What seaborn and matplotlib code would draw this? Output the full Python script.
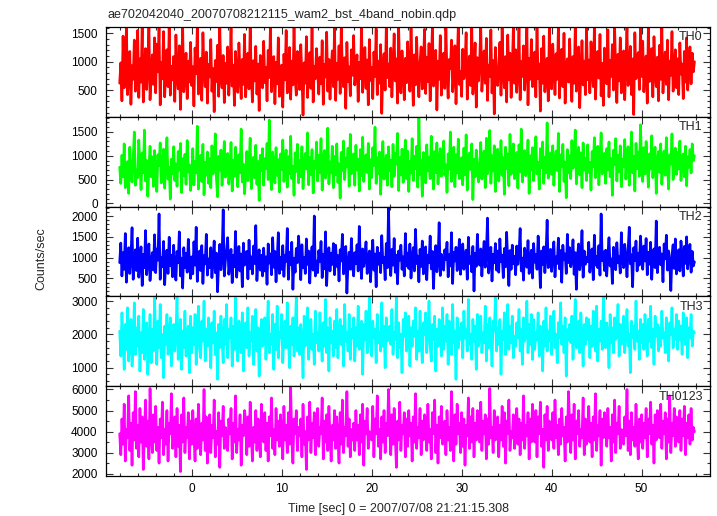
"""
Recreate the WAM 4-band light curve plot (qdp style, 5 stacked panels).
Count rates below are estimates read off the reference, one every 0.125 s.
"""
import numpy as np
import pandas as pd
import matplotlib
matplotlib.use("Agg")
import matplotlib.pyplot as plt
from matplotlib.ticker import MultipleLocator
import seaborn as sns

# ---------------------------------------------------------------
# 1. Data (counts/sec, t = -8 .. 56 s, 16 samples = 2 s per row)
# ---------------------------------------------------------------
time_start = -8.0
time_step = 0.125

th0 = [
    620, 980, 310, 1450, 540, 870, 1620, 420, 760, 1180, 250, 930, 690, 1380, 480, 820,
    1550, 370, 1050, 640, 1620, 290, 880, 1230, 510, 970, 1640, 330, 780, 1120, 600, 1420,
    450, 1310, 820, 1620, 240, 990, 700, 1530, 380, 860, 1210, 560, 1620, 410, 920, 680,
    1090, 300, 1470, 750, 520, 1280, 160, 860, 1620, 470, 730, 1150, 350, 1010, 640, 1340,
    580, 910, 220, 1240, 790, 1620, 430, 690, 1060, 320, 1510, 840, 560, 1170, 270, 950,
    730, 1390, 480, 880, 120, 1020, 650, 1290, 390, 1620, 760, 540, 1110, 280, 970, 620,
    1260, 410, 830, 1590, 570, 940, 230, 1180, 700, 460, 1330, 810, 350, 1040, 600, 1480,
    380, 890, 1150, 520, 1620, 740, 290, 1020, 660, 1270, 430, 960, 140, 1110, 780, 540,
    1360, 630, 900, 310, 1200, 720, 1620, 470, 850, 1090, 260, 990, 610, 1420, 390, 770,
    940, 200, 1130, 680, 1550, 450, 820, 1250, 340, 1010, 590, 1620, 710, 410, 1180, 860,
    510, 1300, 760, 60, 980, 620, 1440, 370, 870, 1160, 530, 1620, 290, 920, 700, 1230,
    820, 430, 1080, 610, 1370, 250, 950, 730, 1520, 480, 1040, 340, 880, 1190, 560, 1620,
    320, 970, 690, 1280, 440, 1620, 810, 560, 1070, 180, 1340, 650, 910, 400, 1210, 760,
    1460, 590, 830, 1120, 300, 990, 700, 1620, 460, 880, 1250, 530, 1030, 240, 1390, 670,
    900, 350, 1170, 740, 1580, 420, 1010, 620, 1300, 90, 860, 1140, 500, 1620, 720, 960,
    560, 1240, 380, 910, 1490, 660, 1050, 270, 1620, 780, 450, 1190, 840, 330, 1060, 630,
    1350, 710, 480, 1620, 870, 230, 1120, 590, 1430, 760, 380, 990, 1260, 520, 900, 1570,
    440, 1080, 650, 1320, 310, 940, 1620, 570, 820, 1200, 150, 1010, 690, 1460, 410, 860,
    1150, 530, 1620, 770, 360, 1040, 880, 1380, 470, 730, 1280, 260, 960, 1620, 600, 830,
    390, 1220, 700, 950, 1510, 340, 860, 1100, 580, 1620, 430, 800, 1330, 200, 1070, 660,
    1000, 1620, 480, 870, 1190, 620, 1410, 320, 940, 740, 1560, 450, 1020, 80, 1250, 710,
    580, 930, 1340, 410, 1620, 790, 540, 1090, 290, 1470, 680, 1150, 370, 890, 1620, 620,
    1210, 460, 850, 1620, 330, 1000, 740, 1280, 500, 930, 1600, 240, 1060, 690, 1390, 560,
    810, 1170, 380, 1620, 700, 960, 130, 1230, 620, 1450, 470, 880, 1060, 310, 1620, 750,
    520, 1310, 890, 420, 1140, 690, 1620, 360, 980, 1220, 560, 1500, 270, 870, 1050, 640,
    1400, 750, 300, 1090, 620, 1620, 480, 940, 1260, 190, 830, 1370, 590, 1010, 420, 1620,
    680, 1030, 450, 1350, 820, 560, 1620, 340, 910, 1180, 710, 1480, 400, 970, 230, 1240,
    870, 610, 1560, 380, 1020, 740, 1300, 500, 1620, 820, 280, 1130, 660, 1420, 450, 900,
    1190, 330, 960, 1620, 580, 840, 1270, 420, 1050, 70, 1510, 700, 930, 1160, 510, 1620,
    740, 1360, 470, 880, 1100, 270, 1620, 650, 990, 1230, 380, 1440, 790, 560, 1080, 310,
    1290, 690, 1620, 450, 920, 1170, 600, 1380, 330, 1010, 760, 1530, 480, 870, 1210, 540,
    1050, 420, 1330, 780, 960, 350, 1180, 640, 1420, 500, 900, 1260, 610, 1150, 820, 1000,
]

th1 = [
    760, 420, 1010, 560, 1250, 330, 690, 880, 210, 1180, 620, 450, 940, 1500, 380, 700,
    540, 1330, 810, 290, 1060, 640, 1540, 470, 900, 150, 750, 1200, 560, 980, 360, 1110,
    680, 250, 1020, 790, 1270, 430, 600, 1140, 320, 870, 1380, 510, 760, 90, 930, 620,
    1190, 480, 830, 360, 1090, 700, 1260, 230, 940, 580, 1030, 400, 1320, 660, 810, 270,
    570, 1150, 390, 880, 640, 1620, 300, 750, 1010, 460, 1240, 180, 860, 590, 1080, 420,
    940, 330, 1210, 620, 780, 1460, 510, 140, 990, 700, 1120, 380, 860, 1300, 550, 730,
    1050, 410, 680, 1280, 260, 900, 570, 1180, 740, 350, 1020, 640, 1560, 450, 820, 200,
    620, 1090, 480, 850, 1370, 310, 760, 970, 540, 1220, 400, 880, 60, 1010, 690, 1150,
    380, 940, 730, 1260, 500, 1750, 640, 290, 1080, 810, 430, 1170, 590, 920, 240, 1040,
    710, 1330, 460, 860, 1120, 340, 980, 620, 1410, 520, 780, 170, 1060, 670, 1240, 430,
    900, 560, 1190, 310, 820, 1050, 720, 1480, 390, 960, 610, 1130, 220, 880, 740, 1290,
    470, 1010, 650, 1360, 280, 920, 1110, 530, 760, 1580, 410, 870, 640, 1200, 330, 990,
    600, 1250, 440, 830, 110, 1070, 690, 1310, 500, 940, 780, 1160, 360, 1450, 620, 850,
    1040, 380, 1220, 710, 930, 260, 1130, 580, 1390, 460, 810, 1020, 650, 1260, 300, 920,
    540, 1170, 800, 1600, 420, 960, 630, 1080, 190, 870, 1300, 510, 740, 1010, 380, 1190,
    690, 910, 350, 1240, 570, 1050, 820, 1470, 270, 960, 600, 1140, 440, 850, 1330, 520,
    1100, 250, 880, 640, 1360, 480, 990, 730, 1200, 340, 1800, 610, 900, 150, 1070, 760,
    430, 1230, 680, 970, 520, 1410, 800, 300, 1090, 650, 1270, 410, 860, 1150, 570, 940,
    1310, 590, 810, 230, 1040, 720, 1500, 460, 900, 1180, 350, 1020, 640, 1350, 520, 780,
    960, 390, 1160, 600, 1440, 280, 870, 1060, 710, 1250, 80, 930, 560, 1120, 820, 450,
    700, 1280, 510, 940, 1100, 330, 1370, 620, 820, 1530, 420, 1000, 680, 1210, 250, 890,
    1140, 470, 780, 1320, 590, 960, 190, 1180, 730, 1040, 370, 1450, 610, 880, 1250, 520,
    830, 1070, 320, 1230, 660, 1560, 450, 920, 1110, 580, 790, 1330, 210, 1000, 700, 1170,
    480, 990, 1400, 620, 860, 300, 1150, 750, 1290, 420, 970, 640, 1690, 530, 820, 1060,
    610, 1210, 380, 900, 1100, 690, 1470, 250, 1020, 780, 1240, 460, 870, 120, 1130, 640,
    1000, 520, 1320, 740, 920, 1540, 410, 820, 1180, 600, 1060, 330, 1270, 710, 950, 480,
    1230, 650, 860, 280, 1090, 770, 1380, 540, 990, 1200, 390, 880, 1480, 620, 760, 1050,
    420, 1150, 700, 1290, 560, 940, 170, 1120, 820, 1360, 470, 1010, 660, 1210, 350, 930,
    780, 1340, 510, 1030, 1190, 380, 870, 1500, 640, 990, 260, 1260, 730, 1080, 570, 1650,
    890, 460, 1170, 620, 1300, 830, 340, 1040, 720, 1420, 540, 960, 1180, 210, 870, 1090,
    650, 1250, 400, 920, 1100, 590, 1380, 780, 300, 1020, 830, 1460, 500, 940, 1160, 610,
    1070, 720, 1310, 480, 890, 1040, 560, 1200, 370, 980, 760, 1130, 640, 1250, 900, 1000,
]

th2 = [
    880, 1350, 560, 1120, 720, 1580, 410, 960, 1240, 620, 1030, 1720, 480, 840, 1190, 690,
    1470, 530, 910, 1260, 330, 1080, 760, 1650, 590, 980, 1330, 450, 860, 1120, 700, 1550,
    640, 1210, 940, 2050, 480, 1010, 780, 1390, 350, 920, 1180, 620, 1490, 810, 1060, 540,
    1300, 720, 460, 1150, 880, 1620, 560, 990, 270, 1240, 760, 1100, 650, 1440, 930, 500,
    1020, 610, 1380, 820, 1730, 430, 940, 1160, 690, 1290, 380, 1050, 850, 1560, 580, 970,
    760, 1240, 520, 980, 1400, 640, 1110, 180, 890, 1320, 710, 1010, 2150, 560, 920, 1180,
    1480, 600, 860, 1200, 400, 1060, 780, 1630, 530, 940, 1270, 680, 1090, 300, 1350, 820,
    930, 1150, 490, 1420, 740, 1020, 610, 1280, 860, 1770, 450, 960, 1190, 700, 1060, 560,
    1230, 680, 1020, 360, 1330, 870, 1090, 590, 1480, 770, 1150, 420, 940, 1600, 620, 1010,
    720, 1290, 550, 1060, 910, 1700, 480, 1130, 830, 1370, 240, 990, 650, 1220, 880, 1520,
    1080, 470, 1310, 760, 1000, 620, 1450, 840, 1160, 390, 1030, 1260, 700, 2000, 560, 920,
    640, 1170, 900, 1390, 520, 1080, 730, 1620, 330, 970, 1240, 680, 1110, 840, 1340, 590,
    1300, 790, 1050, 440, 1190, 920, 1560, 610, 1000, 1270, 150, 870, 1130, 720, 1460, 830,
    560, 1120, 860, 1310, 680, 1750, 950, 500, 1210, 790, 1040, 1380, 620, 960, 1160, 420,
    1020, 1420, 700, 1090, 300, 1250, 840, 1110, 640, 1530, 880, 1010, 470, 1340, 760, 2200,
    900, 570, 1200, 820, 1460, 650, 1060, 370, 1160, 940, 1300, 720, 1020, 560, 1580, 800,
    1110, 740, 1330, 510, 990, 1240, 680, 1680, 860, 1040, 420, 1200, 790, 1400, 610, 950,
    1260, 470, 1060, 880, 1520, 730, 1150, 260, 1010, 1290, 660, 930, 1840, 570, 1080, 840,
    700, 1190, 960, 1370, 540, 1070, 800, 1600, 380, 1130, 920, 1250, 690, 1010, 1440, 600,
    1050, 1330, 720, 940, 1180, 480, 1490, 860, 1020, 660, 1270, 200, 1110, 790, 1560, 910,
    820, 1210, 560, 1040, 1390, 770, 1130, 1950, 630, 990, 1250, 440, 1080, 880, 1340, 700,
    1160, 650, 1450, 900, 1060, 520, 1220, 780, 1610, 940, 330, 1170, 720, 1300, 860, 1030,
    590, 1280, 840, 1120, 1700, 680, 990, 460, 1230, 1050, 770, 1410, 620, 950, 1180, 510,
    1340, 890, 1070, 720, 1520, 1000, 280, 1160, 830, 1260, 640, 1080, 1900, 760, 930, 1200,
    670, 1110, 1380, 540, 1020, 860, 1470, 730, 1170, 410, 1300, 950, 1090, 620, 1560, 880,
    1240, 780, 960, 1430, 600, 1120, 240, 1050, 1330, 710, 990, 1650, 530, 1160, 840, 1010,
    900, 1370, 650, 1100, 1210, 470, 1540, 820, 1030, 760, 1290, 580, 2050, 930, 1140, 690,
    1180, 560, 1060, 1480, 800, 970, 380, 1250, 1090, 710, 1360, 880, 1020, 630, 1600, 940,
    760, 1320, 1000, 540, 1190, 1730, 850, 1070, 300, 1240, 930, 1400, 680, 1110, 820, 1520,
    1050, 720, 1280, 920, 1460, 590, 1130, 840, 1370, 480, 1020, 1210, 760, 1880, 640, 990,
    1250, 830, 1090, 420, 1330, 970, 1540, 700, 1160, 880, 210, 1070, 1310, 740, 1450, 610,
    940, 1190, 680, 1400, 1020, 560, 1270, 860, 1500, 730, 1100, 1320, 650, 1150, 800, 900,
]

th3 = [
    2100, 1350, 2650, 1800, 950, 2300, 1550, 2800, 1200, 1950, 2450, 1050, 1700, 2950, 1400, 2200,
    1650, 2550, 900, 2050, 1450, 2750, 1250, 1900, 2350, 800, 1750, 2600, 1150, 2150, 1500, 3100,
    1850, 1100, 2400, 1600, 2900, 1300, 2000, 700, 2250, 1700, 2600, 1400, 1950, 2500, 1050, 1800,
    2300, 1500, 2050, 3150, 1250, 1750, 2450, 950, 2100, 1600, 2700, 1350, 1900, 2250, 850, 2550,
    1450, 2200, 1700, 2600, 1100, 2000, 2850, 1550, 1300, 2400, 1800, 3000, 1200, 2150, 1650, 2500,
    1950, 1000, 2350, 1750, 2700, 1400, 2050, 650, 2300, 1600, 2550, 1850, 1150, 2450, 1700, 2900,
    1300, 2150, 1900, 2500, 1050, 2250, 1550, 3100, 1750, 1200, 2400, 2000, 1450, 2650, 900, 2100,
    2350, 1600, 2800, 1350, 2050, 1800, 2550, 1100, 1950, 2750, 1500, 2200, 750, 1850, 2450, 1650,
    1750, 2500, 1250, 2150, 3000, 1450, 2000, 1700, 2600, 950, 2300, 1550, 2850, 1300, 2050, 1900,
    2600, 1150, 1950, 2400, 1600, 2950, 1850, 1000, 2250, 1700, 2500, 1350, 2100, 3150, 1500, 2200,
    1400, 2300, 1800, 700, 2550, 1650, 2150, 2800, 1250, 1950, 2450, 1550, 2000, 1100, 2700, 1750,
    2050, 1500, 2650, 1850, 1200, 2350, 1650, 3050, 1450, 2200, 900, 2500, 1750, 2100, 1350, 2400,
    1600, 2750, 1300, 2000, 2450, 1700, 2250, 1050, 2900, 1800, 2050, 1500, 2600, 1250, 2150, 1900,
    2500, 1200, 2200, 1650, 2850, 1550, 2000, 2400, 800, 2300, 1850, 2700, 1450, 1950, 3100, 1700,
    1350, 2400, 1900, 2150, 1150, 2600, 1750, 2050, 1500, 2950, 1650, 2250, 1000, 2500, 1800, 2100,
    2250, 1700, 2750, 1400, 2050, 1850, 3150, 1300, 2350, 1600, 2000, 850, 2450, 1950, 2650, 1500,
    1800, 2550, 1050, 2200, 1650, 2400, 1950, 2800, 1250, 2100, 1500, 2700, 1750, 1150, 2350, 2000,
    2650, 1450, 2050, 3000, 1700, 1200, 2300, 1850, 2550, 900, 2150, 1650, 2450, 1950, 1350, 2800,
    1550, 2250, 1800, 2600, 1100, 2400, 1950, 1400, 2900, 1750, 2100, 650, 2500, 1600, 2200, 1850,
    2350, 1300, 2700, 1900, 2150, 1500, 3050, 1700, 2000, 1250, 2450, 1800, 2250, 950, 2600, 1650,
    1950, 2550, 1450, 2050, 1750, 2850, 1200, 2300, 1600, 2500, 1900, 1050, 2400, 2100, 3100, 1500,
    2200, 1700, 2450, 800, 2100, 1850, 2650, 1400, 2000, 2900, 1550, 2250, 1750, 2550, 1300, 1950,
    1650, 2350, 1900, 2750, 1500, 2150, 1100, 2500, 1800, 2050, 3000, 1450, 2300, 1700, 2600, 1250,
    2450, 1550, 2050, 1850, 2650, 1350, 2250, 1950, 900, 2400, 1650, 2800, 1500, 2100, 1800, 2550,
    1400, 2200, 2700, 1600, 2000, 1150, 2350, 1900, 2950, 1700, 2250, 1450, 2500, 750, 2150, 1850,
    2300, 1750, 2550, 1250, 2100, 3050, 1600, 2000, 2400, 1450, 2650, 1900, 1050, 2300, 1700, 2500,
    1850, 2450, 1300, 2250, 1650, 2700, 2000, 1500, 2850, 1200, 2150, 1800, 2400, 1550, 3150, 1950,
    1600, 2350, 1950, 1000, 2600, 1750, 2200, 1450, 2500, 1850, 2050, 2900, 1350, 2300, 1700, 2150,
    2550, 1450, 2100, 2750, 1650, 2000, 850, 2400, 1900, 2250, 1550, 3000, 1800, 2100, 1250, 2450,
    1750, 2300, 1550, 2600, 1950, 1350, 2450, 1800, 2850, 1600, 2150, 1100, 2550, 1950, 2300, 1500,
    2200, 1650, 2700, 1900, 2050, 1450, 2500, 1750, 1200, 2350, 2000, 2800, 1600, 2150, 1850, 2600,
    1550, 2400, 1850, 2250, 1400, 2650, 2000, 1700, 2500, 1300, 2200, 1900, 2600, 1650, 2100, 2050,
]

th0123 = [
    3900, 2900, 4600, 3400, 5300, 2600, 4100, 3700, 5700, 3100, 4400, 2400, 4900, 3600, 5900, 3200,
    4300, 2800, 5100, 3500, 4700, 2200, 4000, 5500, 3300, 4500, 2700, 6050, 3800, 3000, 4800, 3500,
    5200, 3100, 4200, 2500, 4600, 3700, 5400, 2900, 4100, 3400, 5000, 2600, 4400, 3900, 5800, 3200,
    3600, 4700, 2800, 5100, 3300, 4300, 2100, 4800, 3500, 5600, 3000, 4200, 3700, 4900, 2700, 4500,
    3400, 5000, 3800, 2600, 4600, 3200, 5300, 3900, 2900, 4400, 3600, 6000, 3100, 4700, 2500, 4100,
    4800, 3000, 4300, 3700, 5500, 2800, 4000, 3400, 4900, 2300, 4500, 3800, 5200, 3200, 4200, 3600,
    3100, 4600, 3900, 5100, 2700, 4400, 3500, 5700, 3000, 4100, 3600, 4800, 2400, 4300, 3800, 5000,
    4500, 2900, 4700, 3300, 5400, 3800, 2600, 4200, 3500, 5000, 3100, 4600, 3900, 2800, 5300, 3700,
    3500, 4900, 3100, 4400, 2600, 4700, 3800, 5600, 3200, 4100, 2900, 5100, 3600, 4500, 3300, 4800,
    4000, 2700, 5200, 3600, 4300, 3000, 4900, 3400, 6100, 3700, 2500, 4600, 3900, 5000, 3100, 4200,
    3800, 4600, 2800, 5300, 3400, 4000, 2200, 4700, 3600, 5400, 3000, 4400, 3700, 4900, 2900, 4500,
    5100, 3300, 4200, 3900, 5600, 2700, 4500, 3500, 4800, 3100, 5200, 3800, 2600, 4300, 3600, 5000,
    3200, 4700, 3700, 2500, 4900, 3400, 5500, 3000, 4200, 3800, 5900, 3300, 4600, 2800, 4100, 3600,
    4400, 3100, 5000, 3600, 4300, 2900, 4800, 3500, 5300, 2400, 4500, 3900, 5100, 3200, 4000, 3700,
    3600, 5200, 2800, 4600, 3900, 5700, 3300, 4100, 2700, 4700, 3500, 5000, 3000, 4400, 3800, 6000,
    4200, 2900, 4800, 3400, 5100, 3700, 2300, 4500, 3600, 5400, 3100, 4300, 3900, 4900, 2800, 4600,
    3300, 5000, 3800, 4400, 2600, 4700, 3500, 5800, 3200, 4200, 3700, 5100, 2900, 4500, 3600, 4800,
    4600, 3100, 5300, 3500, 4100, 2700, 4900, 3900, 5500, 3000, 4300, 2500, 4700, 3700, 5200, 3400,
    3700, 4500, 2900, 5000, 3600, 4200, 3100, 5900, 3800, 2600, 4800, 3400, 5300, 3900, 4400, 3000,
    4900, 3300, 4600, 2400, 4300, 3800, 5600, 3200, 4700, 3500, 5100, 2800, 4400, 3600, 5000, 3700,
    3500, 5400, 3100, 4500, 3900, 4800, 2700, 4600, 3400, 6050, 3700, 4200, 3000, 5000, 3600, 4400,
    4700, 2800, 4300, 3600, 5200, 3300, 4900, 2500, 4500, 3900, 5500, 3100, 4000, 3700, 4800, 3200,
    3800, 5100, 3400, 4600, 2900, 4400, 3600, 5700, 3200, 4300, 3800, 4900, 2700, 4600, 3500, 5300,
    4200, 3500, 5000, 2800, 4700, 3900, 5400, 3300, 4100, 2300, 4800, 3600, 5200, 3100, 4500, 3800,
    3600, 4900, 3200, 5500, 3700, 4300, 2900, 4600, 3400, 5100, 3800, 4200, 2600, 4700, 3500, 5900,
    4400, 3000, 4800, 3600, 5300, 2700, 4500, 3900, 5000, 3300, 4100, 3700, 5600, 2900, 4600, 3400,
    3900, 5200, 3500, 4400, 2800, 4700, 3600, 5800, 3100, 4300, 3800, 5000, 2400, 4600, 3700, 4900,
    4500, 3300, 5100, 3700, 4200, 2600, 4800, 3500, 5500, 3000, 4400, 3900, 5200, 3200, 4100, 3600,
    3400, 4700, 3800, 6000, 3100, 4500, 2900, 4900, 3600, 4200, 3300, 5300, 3800, 2700, 4600, 3500,
    4800, 3200, 4400, 3700, 5100, 2800, 4600, 3900, 5400, 3400, 4300, 2500, 4800, 3600, 5000, 3800,
    3700, 5300, 3200, 4500, 3900, 4900, 2700, 4600, 3500, 5700, 3000, 4400, 3800, 5100, 3300, 4700,
    4300, 3500, 5000, 3100, 4600, 3800, 5200, 2900, 4400, 3700, 4800, 3400, 5100, 3600, 4200, 4000,
]

panels = ["TH0", "TH1", "TH2", "TH3", "TH0123"]
rates = [th0, th1, th2, th3, th0123]
colors = ["#ff0000", "#00ff00", "#0000ff", "#00ffff", "#ff00ff"]
ylims = [(30, 1610), (-67, 1818), (70, 2226), (445, 3142), (1890, 6156)]
y_major = [500, 500, 500, 1000, 1000]
y_minor = [100, 100, 100, 200, 500]

# ---------------------------------------------------------------
# 2. Figure
# ---------------------------------------------------------------
sns.set_style("ticks")
plt.rcParams["font.family"] = ["Liberation Sans", "DejaVu Sans"]
plt.rcParams["font.size"] = 8.5
plt.rcParams["path.simplify"] = False   # keep every sample of the dense curves

W, H = 717, 516
fig = plt.figure(figsize=(W / 100, H / 100), dpi=100)

left, right = 106, 710
top, panel_h = 27, 89.8

for i, name in enumerate(panels):
    ax = fig.add_axes([left / W, 1 - (top + (i + 1) * panel_h) / H,
                       (right - left) / W, panel_h / H])

    df = pd.DataFrame({
        "time": time_start + time_step * np.arange(len(rates[i])),
        "rate": rates[i],
    })
    sns.lineplot(data=df, x="time", y="rate", ax=ax, color=colors[i],
                 lw=1.9, sort=False, estimator=None)

    ax.set_xlim(-9.52, 57.6)
    ax.set_ylim(*ylims[i])
    ax.xaxis.set_major_locator(MultipleLocator(10))
    ax.xaxis.set_minor_locator(MultipleLocator(2))
    ax.yaxis.set_major_locator(MultipleLocator(y_major[i]))
    ax.yaxis.set_minor_locator(MultipleLocator(y_minor[i]))
    ax.tick_params(which="both", direction="in", top=True, right=True,
                   width=0.8, colors="#333333", labelcolor="black")
    ax.tick_params(which="major", length=5)
    ax.tick_params(which="minor", length=2.5)
    ax.tick_params(axis="y", pad=6, labelsize=8.5)
    ax.tick_params(axis="x", pad=5, labelsize=8.5)
    for sp in ax.spines.values():
        sp.set_linewidth(0.9)
        sp.set_color("black")
    ax.set_xlabel("")
    ax.set_ylabel("")
    if i < len(panels) - 1:
        ax.tick_params(labelbottom=False)

    ax.text(0.988, 0.95, name, transform=ax.transAxes, ha="right", va="top",
            fontsize=9)

fig.text(107 / W, 1 - 18 / H, "ae702042040_20070708212115_wam2_bst_4band_nobin.qdp",
         ha="left", va="baseline", fontsize=9)
fig.text(41 / W, 1 - 259 / H, "Counts/sec", rotation=90, ha="center",
         va="center", fontsize=9)
fig.text(398 / W, 1 - 512 / H, "Time [sec] 0 = 2007/07/08 21:21:15.308",
         ha="center", va="baseline", fontsize=9)

fig.savefig("out.png", dpi=100)
plt.close(fig)
